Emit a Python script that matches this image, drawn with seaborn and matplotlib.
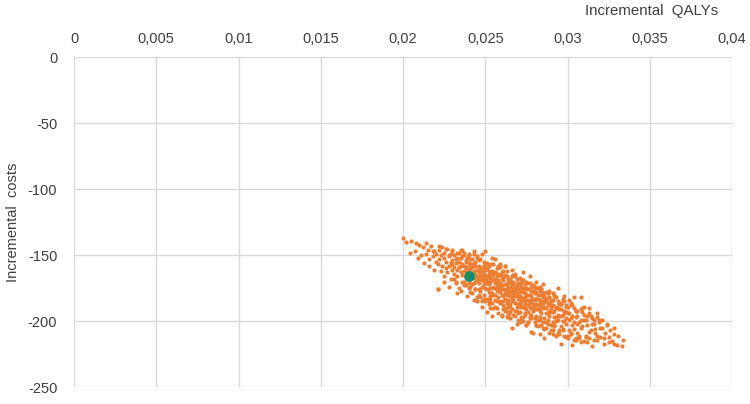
import pandas as pd
import matplotlib
matplotlib.use("Agg")
import matplotlib.pyplot as plt
import seaborn as sns
from matplotlib.ticker import FuncFormatter

# simulated incremental QALYs / costs
incr_qalys = [
    0.0200, 0.0202, 0.0204,
    0.0205, 0.0207, 0.0208, 0.0209,
    0.0210, 0.0211, 0.0212, 0.0213, 0.0214, 0.0214,
    0.0215, 0.0216, 0.0216, 0.0217, 0.0218, 0.0219, 0.0219, 0.0220,
    0.0220, 0.0221, 0.0221, 0.0222, 0.0222, 0.0223, 0.0223, 0.0224, 0.0224, 0.0225,
    0.0225, 0.0225, 0.0226, 0.0226, 0.0227, 0.0227, 0.0228, 0.0228, 0.0229, 0.0229, 0.0229, 0.0230, 0.0230, 0.0230,
    0.0230, 0.0231, 0.0231, 0.0231, 0.0232, 0.0232, 0.0232, 0.0233, 0.0233, 0.0233, 0.0234, 0.0234, 0.0234, 0.0235, 0.0235, 0.0235, 0.0235,
    0.0236, 0.0236, 0.0236, 0.0237, 0.0237, 0.0237, 0.0237, 0.0238, 0.0238, 0.0238, 0.0238, 0.0239, 0.0239, 0.0239, 0.0239, 0.0240, 0.0240, 0.0240, 0.0240, 0.0240,
    0.0241, 0.0241, 0.0241, 0.0241, 0.0242, 0.0242, 0.0242, 0.0242, 0.0243, 0.0243, 0.0243, 0.0243, 0.0244, 0.0244, 0.0244, 0.0244, 0.0245, 0.0245, 0.0245, 0.0245, 0.0245, 0.0244, 0.0243, 0.0242,
    0.0246, 0.0246, 0.0246, 0.0246, 0.0247, 0.0247, 0.0247, 0.0247, 0.0248, 0.0248, 0.0248, 0.0248, 0.0249, 0.0249, 0.0249, 0.0249, 0.0249, 0.0250, 0.0250, 0.0250, 0.0250, 0.0250, 0.0248, 0.0247, 0.0246, 0.0249,
    0.0251, 0.0253, 0.0252, 0.0254, 0.0255, 0.0251, 0.0253, 0.0252, 0.0254, 0.0255, 0.0251, 0.0253, 0.0252, 0.0254, 0.0255, 0.0251, 0.0253, 0.0252, 0.0254, 0.0255, 0.0251, 0.0253, 0.0252, 0.0254, 0.0255, 0.0251, 0.0253, 0.0252,
    0.0256, 0.0256, 0.0256, 0.0256, 0.0257, 0.0257, 0.0257, 0.0257, 0.0258, 0.0258, 0.0258, 0.0258, 0.0258, 0.0259, 0.0259, 0.0259, 0.0259, 0.0259, 0.0260, 0.0260, 0.0260, 0.0260, 0.0260, 0.0257, 0.0256, 0.0258, 0.0259, 0.0256, 0.0257, 0.0260,
    0.0262, 0.0264, 0.0261, 0.0263, 0.0265, 0.0262, 0.0264, 0.0261, 0.0263, 0.0265, 0.0262, 0.0264, 0.0261, 0.0263, 0.0265, 0.0262, 0.0264, 0.0261, 0.0263, 0.0265, 0.0262, 0.0264, 0.0261, 0.0263, 0.0265, 0.0262, 0.0264, 0.0261, 0.0263, 0.0265, 0.0262, 0.0264,
    0.0266, 0.0266, 0.0267, 0.0269, 0.0268, 0.0270, 0.0267, 0.0266, 0.0269, 0.0268, 0.0270, 0.0265, 0.0267, 0.0269, 0.0268, 0.0266, 0.0270, 0.0267, 0.0269, 0.0268, 0.0265, 0.0270, 0.0266, 0.0269, 0.0267, 0.0268, 0.0270, 0.0265, 0.0266, 0.0269, 0.0268, 0.0267,
    0.0271, 0.0273, 0.0272, 0.0274, 0.0271, 0.0275, 0.0273, 0.0272, 0.0274, 0.0275, 0.0271, 0.0273, 0.0272, 0.0274, 0.0275, 0.0271, 0.0273, 0.0272, 0.0274, 0.0275, 0.0271, 0.0273, 0.0272, 0.0274, 0.0275, 0.0271, 0.0273, 0.0272, 0.0274, 0.0275, 0.0272, 0.0274,
    0.0276, 0.0278, 0.0277, 0.0279, 0.0276, 0.0280, 0.0278, 0.0277, 0.0279, 0.0276, 0.0280, 0.0278, 0.0277, 0.0279, 0.0276, 0.0280, 0.0278, 0.0277, 0.0279, 0.0276, 0.0280, 0.0278, 0.0277, 0.0279, 0.0276, 0.0280, 0.0278, 0.0277, 0.0279, 0.0280,
    0.0281, 0.0283, 0.0282, 0.0284, 0.0281, 0.0285, 0.0283, 0.0282, 0.0284, 0.0281, 0.0285, 0.0283, 0.0282, 0.0284, 0.0281, 0.0285, 0.0283, 0.0282, 0.0284, 0.0281, 0.0285, 0.0283, 0.0282, 0.0284, 0.0281, 0.0285, 0.0283, 0.0284,
    0.0286, 0.0288, 0.0287, 0.0289, 0.0286, 0.0290, 0.0288, 0.0287, 0.0289, 0.0286, 0.0290, 0.0288, 0.0287, 0.0289, 0.0286, 0.0290, 0.0288, 0.0287, 0.0289, 0.0286, 0.0290, 0.0288, 0.0287, 0.0289, 0.0290,
    0.0291, 0.0293, 0.0292, 0.0294, 0.0291, 0.0295, 0.0293, 0.0292, 0.0294, 0.0291, 0.0295, 0.0293, 0.0292, 0.0294, 0.0291, 0.0295, 0.0293, 0.0292, 0.0294, 0.0291, 0.0295, 0.0293,
    0.0296, 0.0298, 0.0297, 0.0299, 0.0296, 0.0300, 0.0298, 0.0297, 0.0299, 0.0296, 0.0300, 0.0298, 0.0297, 0.0299, 0.0296, 0.0300, 0.0298, 0.0297, 0.0299,
    0.0301, 0.0303, 0.0302, 0.0304, 0.0301, 0.0305, 0.0303, 0.0302, 0.0304, 0.0301, 0.0305, 0.0303, 0.0302, 0.0304, 0.0305,
    0.0306, 0.0308, 0.0307, 0.0309, 0.0306, 0.0310, 0.0308, 0.0307, 0.0309, 0.0306, 0.0310, 0.0308,
    0.0311, 0.0313, 0.0312, 0.0314, 0.0311, 0.0315, 0.0313, 0.0312, 0.0314,
    0.0316, 0.0318, 0.0317, 0.0319, 0.0316, 0.0320, 0.0318,
    0.0321, 0.0322, 0.0323, 0.0324, 0.0325,
    0.0326, 0.0327, 0.0328, 0.0330,
    0.0331, 0.0333, 0.0334,
    # outer points, upper side of the cloud
    0.0218, 0.0222, 0.0226, 0.0228, 0.0230, 0.0232, 0.0234, 0.0236, 0.0238, 0.0240,
    0.0242, 0.0243, 0.0245, 0.0247, 0.0248, 0.0250, 0.0251, 0.0252, 0.0254, 0.0256,
    0.0257, 0.0259, 0.0261, 0.0262, 0.0264, 0.0266, 0.0267, 0.0269, 0.0271, 0.0273,
    0.0275, 0.0277, 0.0279, 0.0281, 0.0283, 0.0285, 0.0287, 0.0289, 0.0291, 0.0294,
    0.0296, 0.0298, 0.0301, 0.0304, 0.0306, 0.0308, 0.0310, 0.0313, 0.0315, 0.0318,
    0.0321, 0.0324, 0.0328,
    # outer points, lower side of the cloud
    0.0221, 0.0225, 0.0228, 0.0231, 0.0233, 0.0235, 0.0237, 0.0239, 0.0241, 0.0243,
    0.0245, 0.0246, 0.0248, 0.0249, 0.0251, 0.0252, 0.0254, 0.0255, 0.0257, 0.0258,
    0.0260, 0.0261, 0.0263, 0.0265, 0.0266, 0.0268, 0.0270, 0.0271, 0.0273, 0.0275,
    0.0277, 0.0279, 0.0280, 0.0282, 0.0284, 0.0286, 0.0287, 0.0289, 0.0291, 0.0293,
    0.0294, 0.0296, 0.0298, 0.0300, 0.0303, 0.0305, 0.0308, 0.0311, 0.0315, 0.0318,
    0.0322, 0.0325, 0.0328,
    # in-between band
    0.0233, 0.0237, 0.0241, 0.0244, 0.0246, 0.0249, 0.0253, 0.0255, 0.0258, 0.0260,
    0.0263, 0.0265, 0.0268, 0.0270, 0.0272, 0.0274, 0.0276, 0.0278, 0.0280, 0.0282,
    0.0284, 0.0286, 0.0288, 0.0290, 0.0292, 0.0295, 0.0297, 0.0299, 0.0302, 0.0305,
    0.0309, 0.0312, 0.0316, 0.0319,
    0.0232, 0.0236, 0.0240, 0.0242, 0.0244, 0.0247, 0.0250, 0.0253, 0.0256, 0.0259,
    0.0262, 0.0264, 0.0267, 0.0269, 0.0272, 0.0274, 0.0276, 0.0278, 0.0281, 0.0283,
    0.0285, 0.0288, 0.0290, 0.0292, 0.0295, 0.0297, 0.0299, 0.0302, 0.0304, 0.0307,
    0.0310, 0.0313, 0.0317, 0.0320,
]
incr_costs = [
    -137, -140, -148,
    -139, -147, -141, -152,
    -142, -150, -144, -156, -141, -149,
    -146, -153, -158, -143, -151, -161, -147, -155,
    -149, -176, -157, -146, -153, -162, -150, -158, -144, -166,
    -152, -148, -160, -155, -145, -163, -151, -158, -168, -149, -156, -161, -147, -154,
    -157, -150, -164, -159, -153, -170, -156, -148, -161, -166, -155, -159, -175, -152, -163, -158, -146,
    -157, -165, -151, -162, -170, -158, -148, -160, -166, -155, -173, -163, -152, -159, -168, -156, -162, -171, -150, -165,
    -160, -168, -157, -174, -163, -153, -166, -159, -171, -162, -149, -167, -158, -176, -164, -155, -169, -161, -152, -166, -182, -170, -157, -172,
    -163, -171, -158, -168, -165, -177, -160, -153, -169, -162, -174, -166, -158, -172, -164, -180, -155, -167, -161, -175, -170, -157, -185, -168, -176, -169,
    -171, -163, -178, -168, -174, -160, -181, -166, -186, -165, -176, -170, -158, -175, -180, -166, -190, -172, -162, -169, -183, -175, -164, -179, -157, -169, -167, -185,
    -168, -175, -163, -180, -171, -166, -177, -160, -173, -169, -182, -164, -176, -171, -178, -165, -185, -159, -173, -168, -180, -176, -163, -190, -171, -158, -174, -184, -174, -195,
    -179, -168, -185, -173, -181, -165, -187, -176, -192, -170, -183, -175, -169, -180, -189, -172, -195, -181, -166, -177, -190, -180, -162, -186, -174, -176, -171, -188, -177, -198, -158, -184,
    -183, -172, -179, -168, -186, -176, -170, -191, -181, -174, -187, -178, -184, -175, -164, -177, -194, -173, -189, -180, -169, -171, -185, -202, -181, -177, -183, -187, -166, -179, -192, -176,
    -186, -175, -182, -190, -178, -184, -197, -171, -179, -176, -193, -183, -188, -172, -191, -181, -178, -199, -185, -170, -173, -189, -177, -182, -203, -189, -169, -185, -195, -180, -174, -187,
    -180, -190, -185, -177, -193, -183, -174, -196, -187, -184, -179, -184, -171, -192, -176, -198, -181, -189, -183, -201, -188, -195, -180, -173, -188, -175, -208, -186, -190, -184,
    -183, -192, -188, -180, -196, -186, -177, -199, -189, -187, -182, -186, -175, -194, -178, -201, -184, -191, -185, -203, -190, -197, -183, -176, -191, -179, -210, -188,
    -185, -194, -190, -182, -198, -188, -179, -201, -192, -189, -184, -188, -178, -196, -181, -203, -186, -194, -187, -206, -193, -199, -185, -178, -190,
    -188, -197, -192, -185, -201, -191, -182, -204, -195, -193, -186, -190, -181, -199, -184, -207, -189, -197, -190, -210, -196, -200,
    -191, -200, -195, -188, -204, -194, -185, -207, -198, -196, -189, -193, -184, -202, -187, -211, -192, -200, -193,
    -194, -203, -198, -190, -207, -197, -188, -210, -201, -199, -192, -196, -187, -206, -214,
    -196, -205, -201, -193, -209, -199, -191, -213, -204, -202, -195, -199,
    -199, -208, -203, -196, -212, -202, -194, -216, -207,
    -202, -211, -206, -199, -214, -205, -197,
    -205, -213, -209, -202, -216,
    -207, -215, -210, -218,
    -211, -219, -214,
    # outer points, upper side
    -147, -143, -145, -150, -146, -153, -148, -146, -154, -149,
    -157, -147, -151, -159, -149, -147, -156, -162, -152, -153,
    -164, -157, -167, -158, -170, -161, -165, -172, -167, -163,
    -175, -166, -178, -170, -174, -172, -183, -177, -179, -175,
    -187, -181, -184, -182, -192, -182, -189, -190, -198, -194,
    -199, -203, -205,
    # outer points, lower side
    -176, -170, -174, -168, -179, -177, -173, -181, -178, -184,
    -185, -180, -189, -183, -193, -187, -196, -190, -185, -194,
    -196, -191, -197, -193, -205, -196, -199, -201, -200, -203,
    -198, -209, -201, -204, -203, -213, -205, -209, -207, -211,
    -209, -217, -211, -213, -218, -213, -216, -211, -219, -214,
    -217, -212, -217,
    # in-between band
    -152, -150, -153, -158, -154, -160, -157, -163, -160, -166,
    -162, -168, -166, -171, -168, -175, -171, -177, -174, -180,
    -176, -182, -179, -185, -180, -187, -183, -189, -186, -192,
    -190, -196, -199, -201,
    -171, -170, -175, -179, -176, -182, -185, -183, -189, -186,
    -192, -189, -195, -192, -197, -194, -201, -198, -203, -199,
    -205, -202, -207, -203, -210, -206, -212, -209, -214, -211,
    -215, -213, -209, -212,
]

# base case estimate
base_qaly = [0.0240]
base_cost = [-166]

x_ticks = [0, 0.005, 0.01, 0.015, 0.02, 0.025, 0.03, 0.035, 0.04]
y_ticks = [0, -50, -100, -150, -200, -250]

df = pd.DataFrame({"QALYs": incr_qalys, "Costs": incr_costs})
df_base = pd.DataFrame({"QALYs": base_qaly, "Costs": base_cost})

sns.set_style("white")
plt.rcParams["font.family"] = ["Liberation Sans", "DejaVu Sans"]
plt.rcParams["axes.unicode_minus"] = False

fig = plt.figure(figsize=(7.5, 4.04), dpi=100)
ax = fig.add_axes([0.0987, 0.042, 0.8773, 0.816])

sns.scatterplot(data=df, x="QALYs", y="Costs", color="#ED7D31", s=9,
                linewidth=0, ax=ax, zorder=3)
sns.scatterplot(data=df_base, x="QALYs", y="Costs", color="#12906C", s=60,
                linewidth=0, ax=ax, zorder=4)

ax.set_xlim(0, 0.04)
ax.set_ylim(-250, 0)
ax.set_xticks(x_ticks)
ax.set_yticks(y_ticks)
ax.xaxis.tick_top()
ax.xaxis.set_major_formatter(FuncFormatter(
    lambda v, p: "0" if v == 0 else f"{v:g}".replace(".", ",")))
ax.tick_params(axis="both", length=0, labelsize=10.5, labelcolor="#404040")
ax.tick_params(axis="x", pad=8)
ax.tick_params(axis="y", pad=12)
ax.grid(True, color="#D9D9D9", linewidth=1)
for s in ax.spines.values():
    s.set_visible(False)

ax.set_xlabel("")
ax.set_ylabel("Incremental  costs", fontsize=10.5, color="#404040", labelpad=6)
fig.text(0.958, 0.99, "Incremental  QALYs", ha="right", va="top",
         fontsize=10.8, color="#404040")

fig.savefig("out.png", dpi=100)
